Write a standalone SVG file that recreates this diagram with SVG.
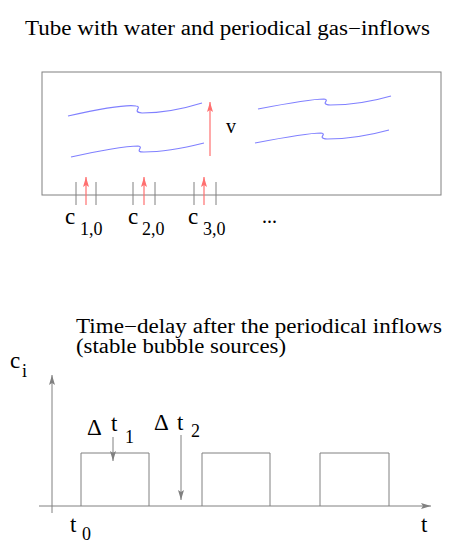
<svg xmlns="http://www.w3.org/2000/svg" width="460" height="550" viewBox="0 0 460 550">
<style>
text{font-family:'Liberation Serif','Times New Roman','DejaVu Serif',serif;fill:#000;font-size:20px}
.L{font-size:23px}
.S{font-size:18px}
.ln{stroke:#808080;stroke-width:1;fill:none}
.wave{stroke:#8080ff;stroke-width:1.2;fill:none}
.red{stroke:#ff7070;stroke-width:1.2;fill:none}
</style>
<defs>
<marker id="ag" markerWidth="10" markerHeight="8" refX="10" refY="4" orient="auto" markerUnits="userSpaceOnUse" viewBox="0 0 10 8">
<path d="M0,1 L10,4 L0,7 L2,4 Z" fill="#808080"/>
</marker>
<marker id="ar" markerWidth="10" markerHeight="8" refX="10" refY="4" orient="auto" markerUnits="userSpaceOnUse" viewBox="0 0 10 8">
<path d="M0,1 L10,4 L0,7 L2,4 Z" fill="#ff7070"/>
</marker>
</defs>

<g id="title">
<text x="25" y="35" textLength="405" lengthAdjust="spacingAndGlyphs">Tube with water and periodical gas−inflows</text>
</g>

<g id="tube">
<rect class="ln" x="42" y="72" width="399" height="123"/>
</g>

<g id="waves">
<path class="wave" d="M68,116 C95,110 125,104 136,106 C143,107 131,112 142,113 C162,113 186,108 202,103"/>
<path class="wave" d="M71,157 C97,151 127,146 138,146 C145,147 133,152 144,152 C164,152 188,147 204,143"/>
<path class="wave" d="M258,109 C284,104 313,99 324,99 C331,100 319,104 330,105 C350,105 374,101 391,96"/>
<path class="wave" d="M255,143 C281,138 310,133 321,133 C328,134 316,138 327,139 C347,139 371,135 389,130"/>
</g>

<g id="velocity">
<line class="red" x1="210" y1="156" x2="210" y2="102" marker-end="url(#ar)"/>
<text x="226" y="133">v</text>
</g>

<g id="inflow1">
<line class="ln" x1="76" y1="182" x2="76" y2="205"/>
<line class="ln" x1="96" y1="182" x2="96" y2="205"/>
<line class="red" x1="86" y1="205" x2="86" y2="177" marker-end="url(#ar)"/>
<text class="L" x="65" y="224">c</text><text class="S" x="80" y="235">1,0</text>
</g>
<g id="inflow2">
<line class="ln" x1="133" y1="182" x2="133" y2="205"/>
<line class="ln" x1="155" y1="182" x2="155" y2="205"/>
<line class="red" x1="144" y1="205" x2="144" y2="177" marker-end="url(#ar)"/>
<text class="L" x="128" y="224">c</text><text class="S" x="142" y="235">2,0</text>
</g>
<g id="inflow3">
<line class="ln" x1="194" y1="182" x2="194" y2="205"/>
<line class="ln" x1="216" y1="182" x2="216" y2="205"/>
<line class="red" x1="204" y1="205" x2="204" y2="177" marker-end="url(#ar)"/>
<text class="L" x="188" y="224">c</text><text class="S" x="203" y="235">3,0</text>
</g>
<g id="dots"><text x="262" y="223">...</text></g>

<g id="subtitle">
<text x="76" y="333" textLength="366" lengthAdjust="spacingAndGlyphs">Time−delay after the periodical inflows</text>
<text x="76" y="353" textLength="210" lengthAdjust="spacingAndGlyphs">(stable bubble sources)</text>
</g>

<g id="axes">
<line class="ln" x1="52" y1="513" x2="52" y2="375" marker-end="url(#ag)"/>
<line class="ln" x1="39" y1="506" x2="431" y2="506" marker-end="url(#ag)"/>
<text class="L" x="10" y="368">c</text><text class="S" x="22" y="377">i</text>
<text class="L" x="421" y="532">t</text>
<text class="L" x="70" y="532">t</text><text class="S" x="82" y="540">0</text>
</g>

<g id="pulses">
<path class="ln" d="M81,506 V453 H149 V506"/>
<path class="ln" d="M202,506 V453 H270 V506"/>
<path class="ln" d="M320,506 V453 H389 V506"/>
</g>

<g id="delay1">
<line class="ln" x1="113" y1="437" x2="113" y2="461" marker-end="url(#ag)"/>
<text class="L" x="87" y="435">Δ</text><text class="L" x="111" y="431">t</text><text class="S" x="125" y="443">1</text>
</g>
<g id="delay2">
<line class="ln" x1="181" y1="435" x2="181" y2="500" marker-end="url(#ag)"/>
<text class="L" x="154" y="430">Δ</text><text class="L" x="177" y="430">t</text><text class="S" x="191" y="437">2</text>
</g>
</svg>
